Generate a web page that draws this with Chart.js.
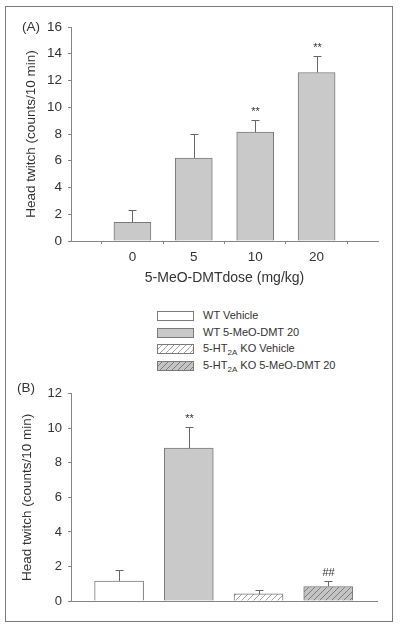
<!DOCTYPE html>
<html>
<head>
<meta charset="utf-8">
<script src="https://cdn.jsdelivr.net/npm/chart.js@4"></script>
<style>
  body { margin: 0; background: #fff; font-family: "Liberation Sans", Arial, sans-serif; color: #333; }
  #page { position: relative; width: 400px; height: 627px; overflow: hidden; }
  #frame { position: absolute; left: 5px; top: 6px; width: 386px; height: 614px; border: 1.5px solid #7a7a7a; }
  canvas.plot { position: absolute; left: 0; }
  .tag { position: absolute; font-size: 13.5px; line-height: 16px; }
  #legend { position: absolute; left: 157px; top: 311px; }
  .item { position: relative; height: 16.7px; font-size: 11px; }
  .item canvas { position: absolute; left: 0; top: 0; }
  .item span { position: absolute; left: 46px; top: -2px; white-space: nowrap; }
  .item sub { font-size: 8px; vertical-align: -3px; line-height: 0; }
</style>
</head>
<body>
<div id="page">
  <div id="frame"></div>
  <canvas id="chartA" class="plot" width="400" height="290" style="top:0"></canvas>
  <canvas id="chartB" class="plot" width="400" height="247" style="top:380px"></canvas>
  <div class="tag" style="left:22px; top:19px">(A)</div>
  <div class="tag" style="left:17px; top:380px">(B)</div>
  <div id="legend"></div>
</div>
<script>
// Panel A: dose response
const doses = ['0', '5', '10', '20'];
const doseMeans = [1.4, 6.2, 8.15, 12.6];
const doseSem = [0.9, 1.82, 0.87, 1.25];
const doseMarks = ['', '', '**', '**'];
const ticksA = [0, 2, 4, 6, 8, 10, 12, 14, 16];

// Panel B: genotype x treatment
const groups = ['WT Vehicle', 'WT 5-MeO-DMT 20', '5-HT2A KO Vehicle', '5-HT2A KO 5-MeO-DMT 20'];
const groupMeans = [1.16, 8.85, 0.41, 0.84];
const groupSem = [0.62, 1.2, 0.25, 0.29];
const groupMarks = ['', '**', '', '##'];
const ticksB = [0, 2, 4, 6, 8, 10, 12];

const FONT = '"Liberation Sans", Arial, sans-serif';
const INK = '#333';
const AXIS = '#858585';
const EDGE = '#7a7a7a';

function hatch(ctx, bg, line) {
  const c = document.createElement('canvas');
  c.width = 6; c.height = 6;
  const g = c.getContext('2d');
  g.fillStyle = bg;
  g.fillRect(0, 0, 6, 6);
  g.strokeStyle = line;
  g.lineWidth = 1;
  g.beginPath();
  g.moveTo(0, 6); g.lineTo(6, 0);
  g.moveTo(-1, 1); g.lineTo(1, -1);
  g.moveTo(5, 7); g.lineTo(7, 5);
  g.stroke();
  return ctx.createPattern(c, 'repeat');
}

// error bars (upper half only) + significance marks
const errorBars = {
  id: 'errorBars',
  afterDatasetsDraw(chart, args, opts) {
    const ctx = chart.ctx;
    const y = chart.scales.y;
    const meta = chart.getDatasetMeta(0);
    ctx.save();
    ctx.strokeStyle = '#666';
    ctx.lineWidth = 1;
    ctx.fillStyle = INK;
    ctx.font = '11px ' + FONT;
    ctx.textAlign = 'center';
    ctx.textBaseline = 'alphabetic';
    opts.means.forEach((m, i) => {
      if (m == null) return;
      const el = meta.data[i + opts.shift];
      const x = Math.round(el.x) + 0.5;
      const top = Math.round(y.getPixelForValue(m + opts.sem[i])) + 0.5;
      ctx.beginPath();
      ctx.moveTo(x, el.y);
      ctx.lineTo(x, top);
      ctx.moveTo(x - 4, top);
      ctx.lineTo(x + 4, top);
      ctx.stroke();
      if (opts.marks[i]) ctx.fillText(opts.marks[i], x, top - 6);
    });
    ctx.restore();
  }
};

function yScale(max, ticks, titlePad, width, size) {
  return {
    min: 0, max: max,
    afterBuildTicks: s => { s.ticks = ticks.map(v => ({ value: v })); },
    afterFit: s => { s.width = width; },
    border: { display: true, color: AXIS, width: 1 },
    grid: { drawOnChartArea: false, drawTicks: true, tickLength: 3, color: AXIS },
    ticks: { color: INK, padding: 6, font: { family: FONT, size: size } },
    title: {
      display: true, text: 'Head twitch (counts/10 min)', color: INK,
      font: { family: FONT, size: 13.5 }, padding: { top: titlePad, bottom: 0 }
    }
  };
}

// ---- Panel A ----
const ctxA = document.getElementById('chartA').getContext('2d');
new Chart(ctxA, {
  type: 'bar',
  data: {
    labels: ['', ...doses, ''],
    datasets: [{
      data: [null, ...doseMeans, null],
      backgroundColor: '#c9c9c9',
      borderColor: EDGE,
      borderWidth: 1,
      barThickness: 37
    }]
  },
  options: {
    responsive: false,
    animation: false,
    layout: { padding: { top: 27, right: 22, left: 0, bottom: 0 } },
    plugins: {
      legend: { display: false },
      tooltip: { enabled: false },
      errorBars: { means: doseMeans, sem: doseSem, marks: doseMarks, shift: 1 }
    },
    scales: {
      x: {
        offset: false,
        afterFit: s => { s.height = 49; },
        border: { display: true, color: AXIS, width: 1 },
        grid: { drawOnChartArea: false, drawTicks: true, tickLength: 3, color: AXIS },
        ticks: { color: INK, padding: 5, maxRotation: 0, font: { family: FONT, size: 13.5 } },
        title: {
          display: true, text: '5-MeO-DMTdose (mg/kg)', color: INK,
          font: { family: FONT, size: 14 }, padding: { top: 0, bottom: 3 }
        }
      },
      y: yScale(16, ticksA, 23, 71, 13.5)
    }
  },
  plugins: [errorBars]
});

// ---- Panel B ----
const ctxB = document.getElementById('chartB').getContext('2d');
const fillsB = ['#ffffff', '#c9c9c9', hatch(ctxB, '#ffffff', '#a0a0a0'), hatch(ctxB, '#c4c4c4', '#7c7c7c')];
new Chart(ctxB, {
  type: 'bar',
  data: {
    labels: groups,
    datasets: [{
      data: groupMeans.map((v, i) => ({ x: i, y: v })),
      backgroundColor: fillsB,
      borderColor: EDGE,
      borderWidth: 1,
      barThickness: 49
    }]
  },
  options: {
    responsive: false,
    animation: false,
    layout: { padding: { top: 8, right: 23, left: 0, bottom: 0 } },
    plugins: {
      legend: { display: false },
      tooltip: { enabled: false },
      errorBars: { means: groupMeans, sem: groupSem, marks: groupMarks, shift: 0 }
    },
    scales: {
      x: {
        type: 'linear',
        offset: false,
        min: -0.69, max: 3.7,
        afterFit: s => { s.height = 26; },
        border: { display: true, color: AXIS, width: 1 },
        grid: { display: false },
        ticks: { display: false }
      },
      y: yScale(12, ticksB, 19, 71, 13)
    }
  },
  plugins: [errorBars]
});

// ---- legend between the panels ----
const legendFills = ['#ffffff', '#c9c9c9', ['#ffffff', '#a0a0a0'], ['#c4c4c4', '#7c7c7c']];
const legend = document.getElementById('legend');
groups.forEach((g, i) => {
  const row = document.createElement('div');
  row.className = 'item';
  const sw = document.createElement('canvas');
  sw.width = 37; sw.height = 10;
  const c = sw.getContext('2d');
  const f = legendFills[i];
  c.fillStyle = Array.isArray(f) ? hatch(c, f[0], f[1]) : f;
  c.fillRect(0, 0, 37, 10);
  c.strokeStyle = EDGE;
  c.strokeRect(0.5, 0.5, 36, 9);
  const label = document.createElement('span');
  label.innerHTML = g.replace('HT2A', 'HT<sub>2A</sub>');
  row.appendChild(sw);
  row.appendChild(label);
  legend.appendChild(row);
});
</script>
</body>
</html>
